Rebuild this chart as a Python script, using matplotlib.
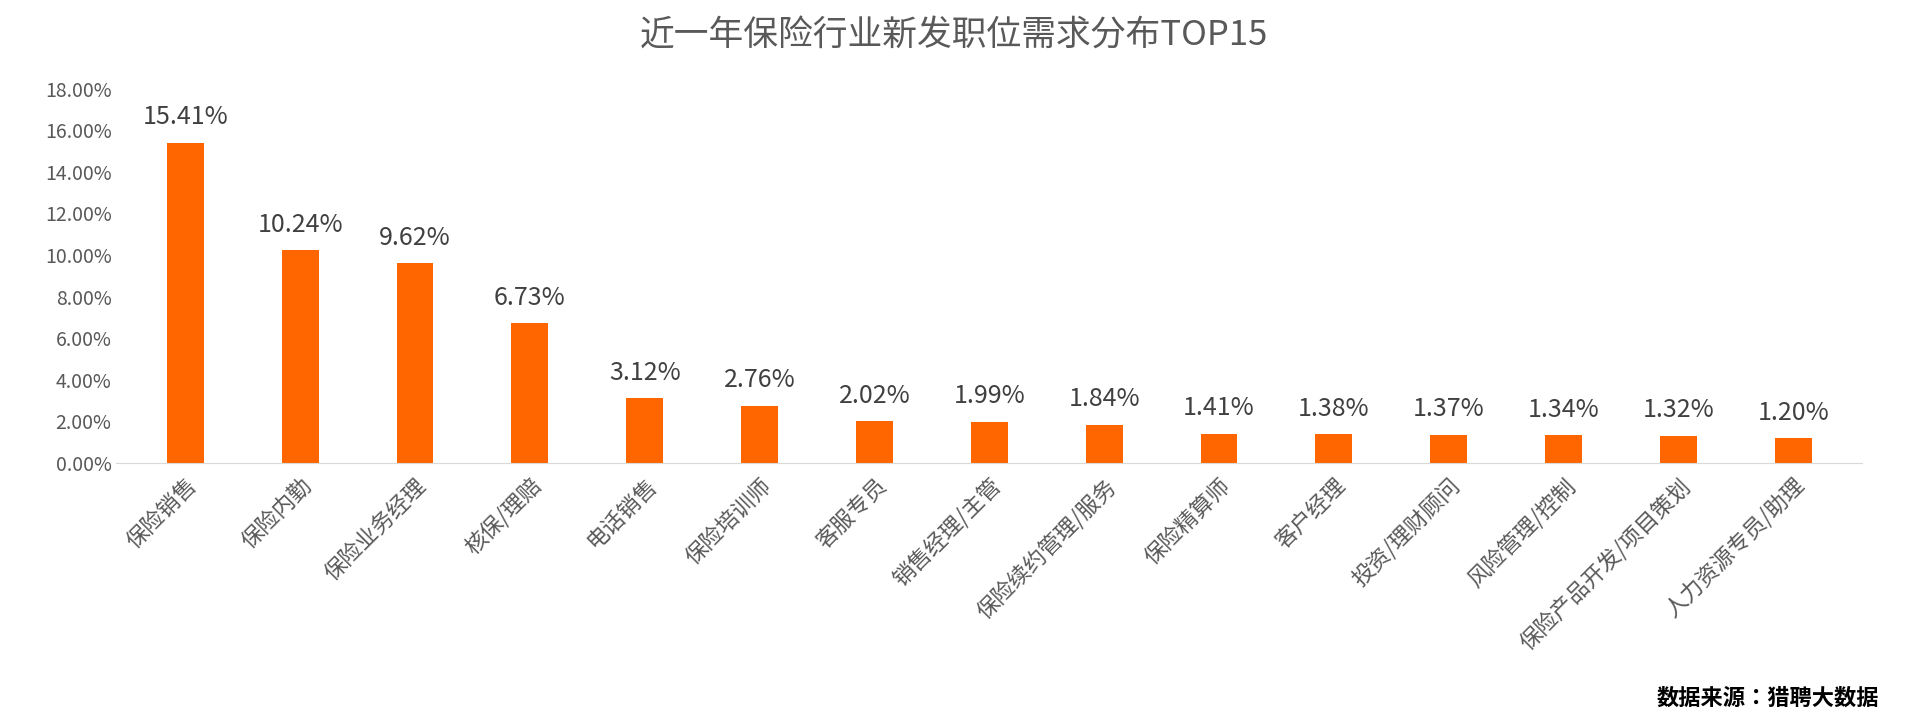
import matplotlib.pyplot as plt
from matplotlib import font_manager
from matplotlib.ticker import FuncFormatter

# pick whichever CJK family is actually registered
cjk = [f.name for f in font_manager.fontManager.ttflist if 'CJK' in f.name]
pref = [n for n in cjk if 'SC' in n] or cjk
plt.rcParams['font.family'] = 'sans-serif'
plt.rcParams['font.sans-serif'] = pref[:1] + ['DejaVu Sans']

# --- DATA ---
categories = ['保险销售', '保险内勤', '保险业务经理', '核保/理赔', '电话销售', '保险培训师',
              '客服专员', '销售经理/主管', '保险续约管理/服务', '保险精算师', '客户经理',
              '投资/理财顾问', '风险管理/控制', '保险产品开发/项目策划', '人力资源专员/助理']
values = [15.41, 10.24, 9.62, 6.73, 3.12, 2.76, 2.02, 1.99, 1.84, 1.41, 1.38, 1.37, 1.34, 1.32, 1.20]

fig = plt.figure(figsize=(19.08, 7.27), dpi=100)
ax = fig.add_axes([0.061, 0.363, 0.915, 0.515])

x = range(len(categories))
ax.bar(x, values, width=0.32, color='#FF6600')
for xi, v in zip(x, values):
    ax.text(xi, v + 0.6, f'{v:.2f}%', ha='center', va='bottom', fontsize=18, color='#404040')

ax.set_ylim(0, 18)
ax.set_yticks(range(0, 19, 2))
ax.yaxis.set_major_formatter(FuncFormatter(lambda v, p: f'{v:.2f}%'))
ax.set_xlim(-0.6, len(categories) - 0.4)
ax.set_xticks(list(x))
ax.set_xticklabels(categories, rotation=45, ha='right', rotation_mode='anchor', fontsize=16, color='#595959')
ax.tick_params(axis='y', labelsize=14, labelcolor='#595959', length=0)
ax.tick_params(axis='x', length=0, pad=8)
for s in ['top', 'right', 'left']:
    ax.spines[s].set_visible(False)
ax.spines['bottom'].set_color('#d9d9d9')

fig.text(0.5, 0.95, '近一年保险行业新发职位需求分布TOP15', ha='center', va='center',
         fontsize=25, color='#595959')
fig.text(0.985, 0.04, '数据来源：猎聘大数据', ha='right', va='center',
         fontsize=16, fontweight='bold', color='#000000')

fig.savefig('out.png')
